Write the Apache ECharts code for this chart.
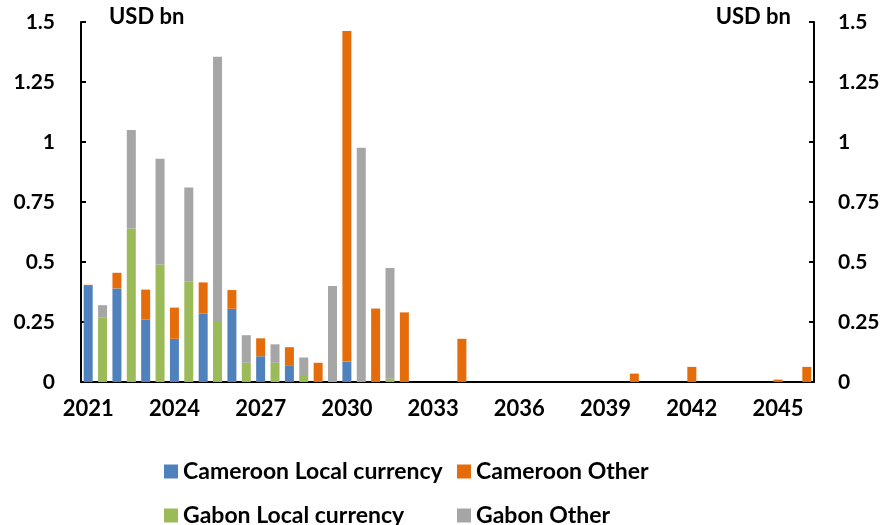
<!DOCTYPE html>
<html>
<head>
<meta charset="utf-8">
<script src="https://cdn.jsdelivr.net/npm/echarts@6/dist/echarts.min.js"></script>
<style>
  html, body { margin: 0; padding: 0; background: #fff; }
  #chart { width: 887px; height: 525px; }
</style>
</head>
<body>
<div id="chart"></div>
<script>
// years on the axis, one pair of bars (Cameroon, Gabon) per year
var years = [2021, 2022, 2023, 2024, 2025, 2026, 2027, 2028, 2029, 2030,
    2031, 2032, 2033, 2034, 2035, 2036, 2037, 2038, 2039, 2040,
    2041, 2042, 2043, 2044, 2045, 2046];

// USD bn
var cameroonLocal = [0.40, 0.39, 0.26, 0.18, 0.285, 0.305, 0.107, 0.07, 0, 0.085,
    0, 0, 0, 0, 0, 0, 0, 0, 0, 0,
    0, 0, 0, 0, 0, 0];
var cameroonOther = [0.005, 0.065, 0.125, 0.13, 0.13, 0.078, 0.075, 0.075, 0.08, 1.378,
    0.306, 0.29, 0, 0.18, 0, 0, 0, 0, 0, 0.035,
    0, 0.063, 0, 0, 0.01, 0.063];
var gabonLocal = [0.27, 0.64, 0.49, 0.42, 0.25, 0.08, 0.08, 0.025, 0, 0,
    0.015, 0, 0, 0, 0, 0, 0, 0, 0, 0,
    0, 0, 0, 0, 0];
var gabonOther = [0.05, 0.41, 0.44, 0.39, 1.105, 0.115, 0.077, 0.077, 0.40, 0.976,
    0.46, 0, 0, 0, 0, 0, 0, 0, 0, 0,
    0, 0, 0, 0, 0];

var yTicks = { min: 0, max: 1.5, interval: 0.25 };

// half-year slots: even slot = Cameroon, odd slot = Gabon (last Gabon slot is cut off)
var slots = [];
for (var i = 0; i < years.length * 2 - 1; i++) {
    slots.push(i % 2 === 0 ? String(years[i / 2]) : years[(i - 1) / 2] + 'g');
}

function spread(values, odd) {
    var out = [];
    for (var i = 0; i < slots.length; i++) {
        if ((i % 2 === 1) === odd) {
            var v = values[Math.floor(i / 2)];
            out.push(v ? v : '-');
        } else {
            out.push('-');
        }
    }
    return out;
}

var font = 'Lato';
var chart = echarts.init(document.getElementById('chart'));

function valueAxis(pos) {
    return {
        type: 'value',
        position: pos,
        min: yTicks.min,
        max: yTicks.max,
        interval: yTicks.interval,
        splitLine: { show: false },
        axisLine: { show: true, lineStyle: { color: '#000', width: 2 } },
        axisTick: { show: true, inside: true, length: 5, lineStyle: { color: '#000', width: 2 } },
        axisLabel: {
            color: '#000', fontFamily: font, fontWeight: 'bold', fontSize: 21,
            margin: pos === 'left' ? 26 : 24
        }
    };
}

function bar(name, color, values, odd) {
    return {
        name: name,
        type: 'bar',
        stack: 'all',
        barWidth: 9,
        itemStyle: { color: color },
        data: spread(values, odd)
    };
}

function legendCol(left, names) {
    return {
        orient: 'vertical', left: left, top: 455, height: 120, itemGap: 21,
        itemWidth: 14, itemHeight: 14, icon: 'rect',
        textStyle: { color: '#000', fontFamily: font, fontWeight: 'bold', fontSize: 23 },
        data: names
    };
}

var option = {
    animation: false,
    grid: { left: 81, right: 73, top: 22, bottom: 143 },
    xAxis: {
        type: 'category',
        data: slots,
        axisLine: { lineStyle: { color: '#000', width: 2 } },
        axisTick: {
            inside: true, length: 7,
            interval: function (idx) { return idx % 2 === 0; },
            lineStyle: { color: '#000', width: 2 }
        },
        axisLabel: {
            interval: function (idx) { return idx % 6 === 0; },
            color: '#000', fontFamily: font, fontWeight: 'bold', fontSize: 22, margin: 16
        }
    },
    yAxis: [valueAxis('left'), valueAxis('right')],
    legend: [
        legendCol(159, ['Cameroon Local currency', 'Gabon Local currency']),
        legendCol(452, ['Cameroon Other', 'Gabon Other'])
    ],
    graphic: [
        { type: 'text', left: 109, top: 6, style: { text: 'USD bn', fill: '#000', font: 'bold 22px Lato' } },
        { type: 'text', right: 96, top: 6, style: { text: 'USD bn', fill: '#000', font: 'bold 22px Lato' } }
    ],
    series: [
        bar('Cameroon Local currency', '#4F81BD', cameroonLocal, false),
        bar('Cameroon Other', '#E46C0A', cameroonOther, false),
        bar('Gabon Local currency', '#9BBB59', gabonLocal, true),
        bar('Gabon Other', '#A6A6A6', gabonOther, true)
    ]
};
chart.setOption(option);
</script>
</body>
</html>
